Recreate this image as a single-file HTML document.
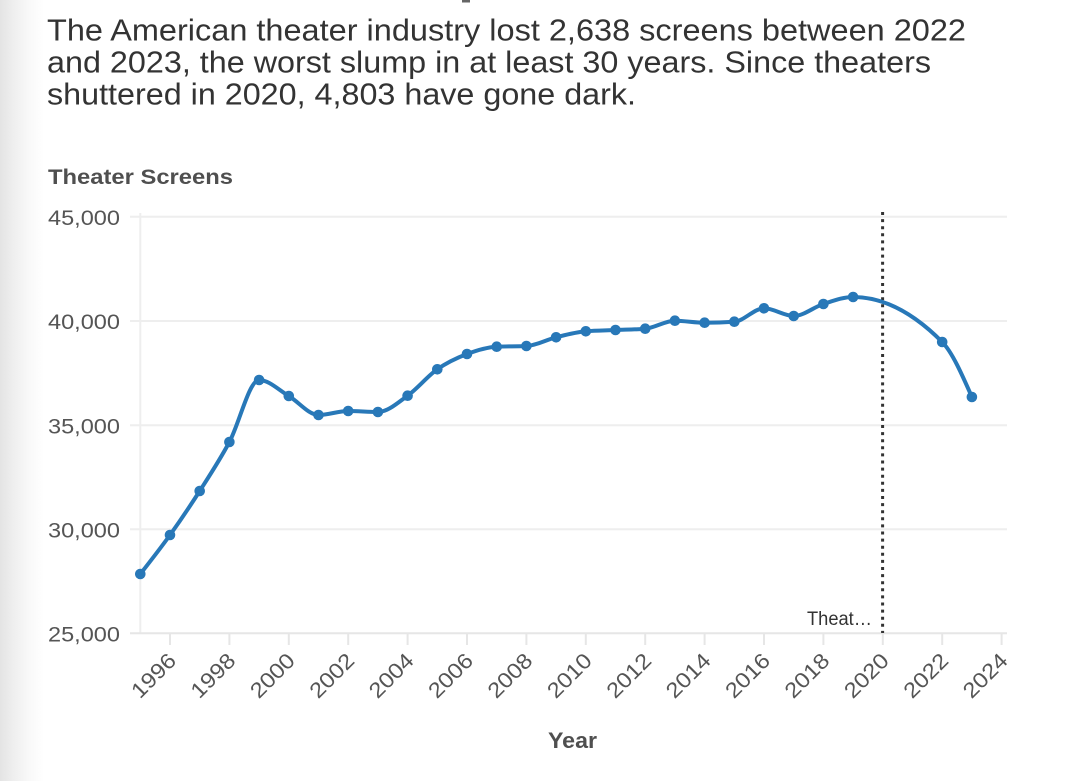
<!DOCTYPE html>
<html>
<head>
<meta charset="utf-8">
<style>
  html,body{margin:0;padding:0;background:#fff;}
  body{width:1080px;height:781px;overflow:hidden;position:relative;
    background:linear-gradient(to right,#e4e4e4 0px,#efefef 14px,#f8f8f8 28px,#ffffff 44px);}
  svg{position:absolute;left:0;top:0;}
  text{font-family:"Liberation Sans",Arial,sans-serif;}
</style>
</head>
<body>
<svg width="1080" height="781" viewBox="0 0 1080 781" xmlns="http://www.w3.org/2000/svg">
  <!-- top artifact -->
  <rect x="462" y="0" width="8" height="2.5" fill="#666"/>

  <!-- Title -->
  <g fill="#333" font-size="31">
    <text x="47" y="40.5" textLength="919" lengthAdjust="spacingAndGlyphs">The American theater industry lost 2,638 screens between 2022</text>
    <text x="47" y="72.5" textLength="884" lengthAdjust="spacingAndGlyphs">and 2023, the worst slump in at least 30 years. Since theaters</text>
    <text x="47" y="104.5" textLength="589" lengthAdjust="spacingAndGlyphs">shuttered in 2020, 4,803 have gone dark.</text>
  </g>

  <text x="48" y="184" font-size="21.5" font-weight="bold" fill="#4f4f4f" textLength="185" lengthAdjust="spacingAndGlyphs">Theater Screens</text>

  <!-- grid -->
  <g stroke="#eeeeee" stroke-width="2">
    <line x1="130" y1="216.7" x2="1007" y2="216.7"/>
    <line x1="130" y1="321" x2="1007" y2="321"/>
    <line x1="130" y1="425.2" x2="1007" y2="425.2"/>
    <line x1="130" y1="529.3" x2="1007" y2="529.3"/>
    <line x1="140.3" y1="213" x2="140.3" y2="633"/>
  </g>
  <line x1="130" y1="633.3" x2="1007" y2="633.3" stroke="#e6e6e6" stroke-width="2"/>
  <g id="ticks" stroke="#e6e6e6" stroke-width="2"></g>

  <!-- y labels -->
  <g fill="#555" font-size="21.5" text-anchor="end">
    <text x="120" y="225" textLength="72" lengthAdjust="spacingAndGlyphs">45,000</text>
    <text x="120" y="329" textLength="72" lengthAdjust="spacingAndGlyphs">40,000</text>
    <text x="120" y="433.5" textLength="72" lengthAdjust="spacingAndGlyphs">35,000</text>
    <text x="120" y="537.5" textLength="72" lengthAdjust="spacingAndGlyphs">30,000</text>
    <text x="120" y="641.5" textLength="72" lengthAdjust="spacingAndGlyphs">25,000</text>
  </g>

  <!-- x labels -->
  <g id="xlabels" fill="#555" font-size="21.5" text-anchor="end"></g>

  <text x="572.5" y="748" font-size="22" font-weight="bold" fill="#4f4f4f" text-anchor="middle" textLength="49" lengthAdjust="spacingAndGlyphs">Year</text>

  <!-- annotation -->
  <line x1="882.6" y1="212" x2="882.6" y2="633" stroke="#333" stroke-width="3" stroke-dasharray="3 4.1"/>
  <text x="872" y="625" font-size="19" fill="#333" text-anchor="end" textLength="65" lengthAdjust="spacingAndGlyphs">Theat…</text>

  <!-- series -->
  <path id="series" fill="none" stroke="#2878b8" stroke-width="4" stroke-linejoin="round" stroke-linecap="round"
    d="M140.3,574 L170,535 L199.7,491 L229.4,442 L259.1,380 L288.8,396 L318.5,415 L348.2,411 L377.9,412 L407.6,395.7 L437.3,369.3 L467,354 L496.7,346.7 L526.4,346 L556.1,337.3 L585.8,331.3 L615.5,330 L645.2,328.7 L674.9,320.7 L704.6,322.7 L734.3,321.7 L764,308.3 L793.7,316 L823.4,304 L853.1,297 L942.2,342 L971.9,397"/>
  <g id="dots" fill="#2878b8"></g>
</svg>
<script>
(function(){
  var NS="http://www.w3.org/2000/svg";
  function X(yr){return 140.3+(yr-1995)*29.7;}
  var data=[[1995,574],[1996,535],[1997,491],[1998,442],[1999,380],[2000,396],[2001,415],[2002,411],[2003,412],[2004,395.7],[2005,369.3],[2006,354],[2007,346.7],[2008,346],[2009,337.3],[2010,331.3],[2011,330],[2012,328.7],[2013,320.7],[2014,322.7],[2015,321.7],[2016,308.3],[2017,316],[2018,304],[2019,297],[2022,342],[2023,397]];
  var pts=data.map(function(d){return [X(d[0]),d[1]];});
  var n=pts.length;
  function sign(v){return v<0?-1:1;}
  var t=new Array(n);
  for(var i=1;i<n-1;i++){
    var x0=pts[i-1][0],y0=pts[i-1][1],x1=pts[i][0],y1=pts[i][1],x2=pts[i+1][0],y2=pts[i+1][1];
    var h0=x1-x0,h1=x2-x1,s0=(y1-y0)/h0,s1=(y2-y1)/h1,p=(s0*h1+s1*h0)/(h0+h1);
    t[i]=(sign(s0)+sign(s1))*Math.min(Math.abs(s0),Math.abs(s1),0.5*Math.abs(p))||0;
  }
  var h=pts[1][0]-pts[0][0];
  t[0]=(3*(pts[1][1]-pts[0][1])/h-t[1])/2;
  h=pts[n-1][0]-pts[n-2][0];
  t[n-1]=(3*(pts[n-1][1]-pts[n-2][1])/h-t[n-2])/2;
  var d="M"+pts[0][0]+","+pts[0][1];
  for(var j=0;j<n-1;j++){
    var a=pts[j],b=pts[j+1],dx=(b[0]-a[0])/3;
    d+="C"+(a[0]+dx)+","+(a[1]+dx*t[j])+","+(b[0]-dx)+","+(b[1]-dx*t[j+1])+","+b[0]+","+b[1];
  }
  document.getElementById("series").setAttribute("d",d);
  var dots=document.getElementById("dots");
  pts.forEach(function(p){
    var c=document.createElementNS(NS,"circle");
    c.setAttribute("cx",p[0]);c.setAttribute("cy",p[1]);c.setAttribute("r","5.3");
    dots.appendChild(c);
  });
  var ticks=document.getElementById("ticks"),xl=document.getElementById("xlabels");
  for(var yr=1996;yr<=2024;yr+=2){
    var x=X(yr);
    var l=document.createElementNS(NS,"line");
    l.setAttribute("x1",x);l.setAttribute("x2",x);l.setAttribute("y1","633");l.setAttribute("y2","645");
    ticks.appendChild(l);
    var tx=document.createElementNS(NS,"text");
    tx.setAttribute("transform","translate("+(x+7.5)+",662) rotate(-45)");
    tx.setAttribute("textLength","53");
    tx.setAttribute("lengthAdjust","spacingAndGlyphs");
    tx.textContent=String(yr);
    xl.appendChild(tx);
  }
})();
</script>
</body>
</html>
